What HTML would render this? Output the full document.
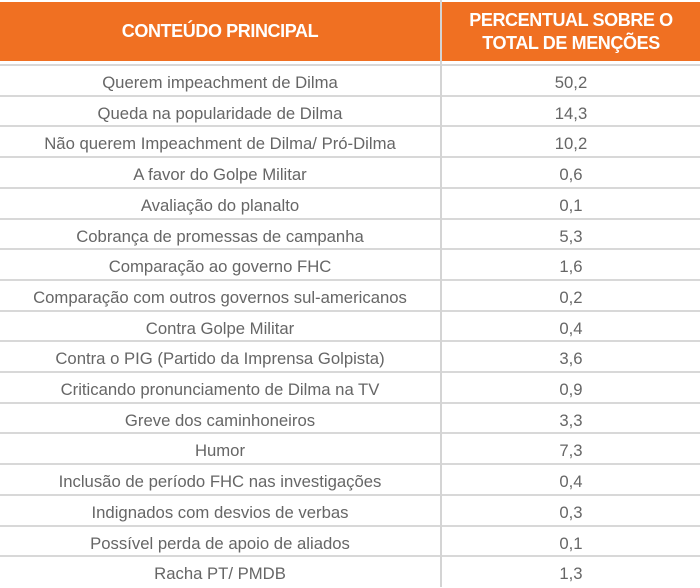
<!DOCTYPE html>
<html><head><meta charset="utf-8">
<style>
html,body{margin:0;padding:0;background:#fff;}
body{width:700px;height:587px;position:relative;overflow:hidden;font-family:"Liberation Sans",sans-serif;}
#hdr{position:absolute;left:0;top:2px;width:700px;height:59px;background:#f07022;}
.h{position:absolute;color:#fff;font-weight:bold;font-size:18px;text-align:center;line-height:23px;letter-spacing:-0.4px;}
#vline{position:absolute;left:440px;top:0;width:2px;height:587px;background:#d4d4d4;}
.row{position:absolute;left:0;width:700px;height:30.7px;border-top:2px solid #d8d8d8;box-sizing:border-box;color:#666;font-size:16.7px;}
.row span{position:absolute;top:3px;line-height:28px;text-align:center;}
.c1{left:0;width:440px;}
.c2{left:442px;width:258px;}
</style></head>
<body>
<div id="hdr"></div>
<div class="h" style="left:0;width:440px;top:20px;">CONTEÚDO PRINCIPAL</div>
<div class="h" style="left:442px;width:258px;top:9px;">PERCENTUAL SOBRE O<br>TOTAL DE MENÇÕES</div>
<div id="rows"></div>
<div id="vline"></div>
<script>
const labels=["Querem impeachment de Dilma","Queda na popularidade de Dilma","Não querem Impeachment de Dilma/ Pró-Dilma","A favor do Golpe Militar","Avaliação do planalto","Cobrança de promessas de campanha","Comparação ao governo FHC","Comparação com outros governos sul-americanos","Contra Golpe Militar","Contra o PIG (Partido da Imprensa Golpista)","Criticando pronunciamento de Dilma na TV","Greve dos caminhoneiros","Humor","Inclusão de período FHC nas investigações","Indignados com desvios de verbas","Possível perda de apoio de aliados","Racha PT/ PMDB"];
const values=["50,2","14,3","10,2","0,6","0,1","5,3","1,6","0,2","0,4","3,6","0,9","3,3","7,3","0,4","0,3","0,1","1,3"];
const cont=document.getElementById('rows');
labels.forEach((l,i)=>{
  const r=document.createElement('div');
  r.className='row';
  r.style.top=(64+i*30.7)+'px';
  
  
  const a=document.createElement('span');a.className='c1';a.textContent=l;
  
  
  const b=document.createElement('span');b.className='c2';b.textContent=values[i];
  
  
  r.appendChild(a);r.appendChild(b);cont.appendChild(r);
});
</script>
</body></html>
